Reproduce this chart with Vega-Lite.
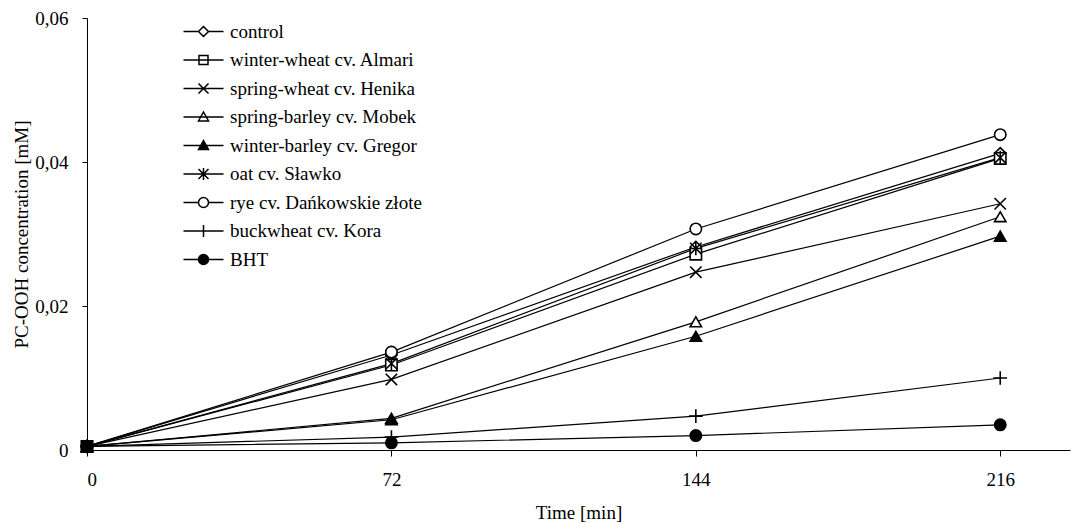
{
  "$schema": "https://vega.github.io/schema/vega-lite/v6.json",
  "width": 983,
  "height": 432,
  "autosize": {"type": "none"},
  "padding": {"left": 87, "top": 18, "right": 14, "bottom": 73},
  "background": "white",
  "config": {
    "view": {"stroke": null},
    "font": "Liberation Serif",
    "axis": {"domainColor": "black", "tickColor": "black", "labelColor": "black", "titleColor": "black", "labelFont": "Liberation Serif", "titleFont": "Liberation Serif", "labelFontSize": 19, "titleFontSize": 19, "titleFontWeight": "normal", "grid": false},
    "legend": {"labelFont": "Liberation Serif", "labelFontSize": 19, "labelColor": "black"}
  },
  "data": {"values": [
    {"series": "control", "t": 0, "v": 0.0005}, {"series": "control", "t": 72, "v": 0.0132}, {"series": "control", "t": 144, "v": 0.0282}, {"series": "control", "t": 216, "v": 0.0412},
    {"series": "winter-wheat cv. Almari", "t": 0, "v": 0.0005}, {"series": "winter-wheat cv. Almari", "t": 72, "v": 0.0118}, {"series": "winter-wheat cv. Almari", "t": 144, "v": 0.0272}, {"series": "winter-wheat cv. Almari", "t": 216, "v": 0.0405},
    {"series": "spring-wheat cv. Henika", "t": 0, "v": 0.0005}, {"series": "spring-wheat cv. Henika", "t": 72, "v": 0.0098}, {"series": "spring-wheat cv. Henika", "t": 144, "v": 0.0247}, {"series": "spring-wheat cv. Henika", "t": 216, "v": 0.0342},
    {"series": "spring-barley cv. Mobek", "t": 0, "v": 0.0005}, {"series": "spring-barley cv. Mobek", "t": 72, "v": 0.0044}, {"series": "spring-barley cv. Mobek", "t": 144, "v": 0.0178}, {"series": "spring-barley cv. Mobek", "t": 216, "v": 0.0324},
    {"series": "winter-barley cv. Gregor", "t": 0, "v": 0.0005}, {"series": "winter-barley cv. Gregor", "t": 72, "v": 0.0042}, {"series": "winter-barley cv. Gregor", "t": 144, "v": 0.0158}, {"series": "winter-barley cv. Gregor", "t": 216, "v": 0.0297},
    {"series": "oat cv. Sławko", "t": 0, "v": 0.0005}, {"series": "oat cv. Sławko", "t": 72, "v": 0.0120}, {"series": "oat cv. Sławko", "t": 144, "v": 0.0280}, {"series": "oat cv. Sławko", "t": 216, "v": 0.0406},
    {"series": "rye cv. Dańkowskie złote", "t": 0, "v": 0.0005}, {"series": "rye cv. Dańkowskie złote", "t": 72, "v": 0.0136}, {"series": "rye cv. Dańkowskie złote", "t": 144, "v": 0.0307}, {"series": "rye cv. Dańkowskie złote", "t": 216, "v": 0.0438},
    {"series": "buckwheat cv. Kora", "t": 0, "v": 0.0005}, {"series": "buckwheat cv. Kora", "t": 72, "v": 0.0018}, {"series": "buckwheat cv. Kora", "t": 144, "v": 0.0047}, {"series": "buckwheat cv. Kora", "t": 216, "v": 0.0100},
    {"series": "BHT", "t": 0, "v": 0.0005}, {"series": "BHT", "t": 72, "v": 0.0010}, {"series": "BHT", "t": 144, "v": 0.0020}, {"series": "BHT", "t": 216, "v": 0.0035}
  ]},
  "encoding": {
    "x": {"field": "t", "type": "quantitative", "scale": {"domain": [0, 232.5], "nice": false, "zero": false},
      "axis": {"values": [0, 72, 144, 216], "title": "Time [min]", "tickSize": 6, "labelPadding": 14, "titlePadding": 14}},
    "y": {"field": "v", "type": "quantitative", "scale": {"domain": [0, 0.06], "nice": false},
      "axis": {"values": [0, 0.02, 0.04, 0.06], "title": "PC-OOH concentration [mM]", "tickSize": 5, "labelPadding": 14, "titlePadding": 3,
        "labelExpr": "datum.value == 0 ? '0' : replace(format(datum.value, '.2f'), '.', ',')"}}
  },
  "layer": [
    {
      "mark": {"type": "line", "color": "black", "strokeWidth": 1.2},
      "encoding": {"detail": {"field": "series"}}
    },
    {
      "mark": {"type": "point", "filled": false, "stroke": "black", "strokeWidth": 1.6, "opacity": 1, "size": 130},
      "encoding": {
        "shape": {"field": "series", "legend": null, "scale": {
          "domain": ["control", "winter-wheat cv. Almari", "spring-wheat cv. Henika", "spring-barley cv. Mobek", "winter-barley cv. Gregor", "oat cv. Sławko", "rye cv. Dańkowskie złote", "buckwheat cv. Kora", "BHT"],
          "range": ["diamond", "square", "M-1,-1L1,1M-1,1L1,-1", "triangle-up", "triangle-up", "M-1,-1L1,1M-1,1L1,-1M0,-1.2L0,1.2", "circle", "M-1.2,0L1.2,0M0,-1.2L0,1.2", "circle"]}},
        "fill": {"field": "series", "legend": null, "scale": {
          "domain": ["control", "winter-wheat cv. Almari", "spring-wheat cv. Henika", "spring-barley cv. Mobek", "winter-barley cv. Gregor", "oat cv. Sławko", "rye cv. Dańkowskie złote", "buckwheat cv. Kora", "BHT"],
          "range": ["white", "white", "white", "white", "black", "white", "white", "white", "black"]}}
      }
    },
    {
      "transform": [{"filter": "datum.t < 0"}],
      "mark": {"type": "point", "filled": false, "stroke": "black", "strokeWidth": 1.4, "opacity": 1, "size": 100},
      "encoding": {
        "shape": {"field": "series", "title": null, "scale": {
          "domain": ["control", "winter-wheat cv. Almari", "spring-wheat cv. Henika", "spring-barley cv. Mobek", "winter-barley cv. Gregor", "oat cv. Sławko", "rye cv. Dańkowskie złote", "buckwheat cv. Kora", "BHT"],
          "range": [
            "M-4,0L-1,0M1,0L4,0M0,-1L1,0L0,1L-1,0Z",
            "M-4,0L4,0M-0.9,-0.9L0.9,-0.9L0.9,0.9L-0.9,0.9Z",
            "M-4,0L4,0M-1,-1L1,1M-1,1L1,-1",
            "M-4,0L4,0M0,-1L1,0.8L-1,0.8Z",
            "M-4,0L4,0M0,-1L1,0.8L-1,0.8Z",
            "M-4,0L4,0M-1,-1L1,1M-1,1L1,-1M0,-1.2L0,1.2",
            "M-4,0L-1,0M1,0L4,0M-1,0A1,1 0 1,0 1,0A1,1 0 1,0 -1,0Z",
            "M-4,0L4,0M0,-1.2L0,1.2",
            "M-4,0L4,0M-1,0A1,1 0 1,0 1,0A1,1 0 1,0 -1,0Z"
          ]},
          "legend": {"orient": "none", "legendX": 107, "legendY": 4, "padding": 0, "rowPadding": 8.5, "labelOffset": 17, "labelLimit": 400,
            "encode": {"symbols": {"update": {"stroke": {"value": "black"}, "strokeWidth": {"value": 1.4}}}}}},
        "fill": {"field": "series", "title": null, "scale": {
          "domain": ["control", "winter-wheat cv. Almari", "spring-wheat cv. Henika", "spring-barley cv. Mobek", "winter-barley cv. Gregor", "oat cv. Sławko", "rye cv. Dańkowskie złote", "buckwheat cv. Kora", "BHT"],
          "range": ["white", "white", "white", "white", "black", "white", "white", "white", "black"]}}
      }
    }
  ],
  "resolve": {"scale": {"shape": "independent", "fill": "independent"}}
}
